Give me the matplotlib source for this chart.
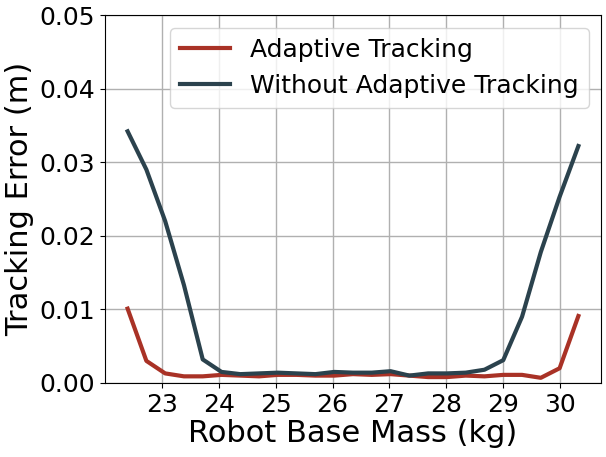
import matplotlib
matplotlib.use("Agg")
import matplotlib.pyplot as plt

mass = [22.40, 22.73, 23.06, 23.39, 23.72, 24.05, 24.38, 24.71, 25.04, 25.37,
        25.70, 26.03, 26.36, 26.69, 27.02, 27.35, 27.68, 28.01, 28.34, 28.67,
        29.00, 29.33, 29.66, 29.99, 30.32]
adaptive = [0.0101, 0.0030, 0.0013, 0.0009, 0.0009, 0.0011, 0.0010, 0.0009, 0.0011, 0.0011,
            0.0010, 0.0010, 0.0012, 0.0011, 0.0012, 0.0010, 0.0008, 0.0008, 0.0010, 0.0009,
            0.0011, 0.0011, 0.0007, 0.0020, 0.0091]
without = [0.0342, 0.0290, 0.0220, 0.0133, 0.0032, 0.0015, 0.0012, 0.0013, 0.0014, 0.0013,
           0.0012, 0.0015, 0.0014, 0.0014, 0.0016, 0.0010, 0.0013, 0.0013, 0.0014, 0.0018,
           0.0031, 0.0090, 0.0178, 0.0253, 0.0322]
xticks = [23, 24, 25, 26, 27, 28, 29, 30]
yticks = [0.00, 0.01, 0.02, 0.03, 0.04, 0.05]

fig = plt.figure(figsize=(6.06, 4.57), dpi=100)
ax = fig.add_axes([0.173, 0.162, 0.819, 0.805])
ax.plot(mass, adaptive, color="#a93226", lw=3, label="Adaptive Tracking")
ax.plot(mass, without, color="#2b424d", lw=3, label="Without Adaptive Tracking")
ax.set_ylim(0, 0.05)
ax.set_xlim(22.0, 30.72)
ax.set_xticks(xticks)
ax.set_yticks(yticks)
ax.set_yticklabels([f"{v:.2f}" for v in yticks])
ax.tick_params(labelsize=18)
ax.grid(True, color="#b0b0b0", lw=1)
ax.set_axisbelow(True)
ax.set_xlabel("Robot Base Mass (kg)", fontsize=22, labelpad=2)
ax.set_ylabel("Tracking Error (m)", fontsize=22, labelpad=4)
ax.legend(loc="upper right", fontsize=18)
fig.savefig("out.png", dpi=100)
